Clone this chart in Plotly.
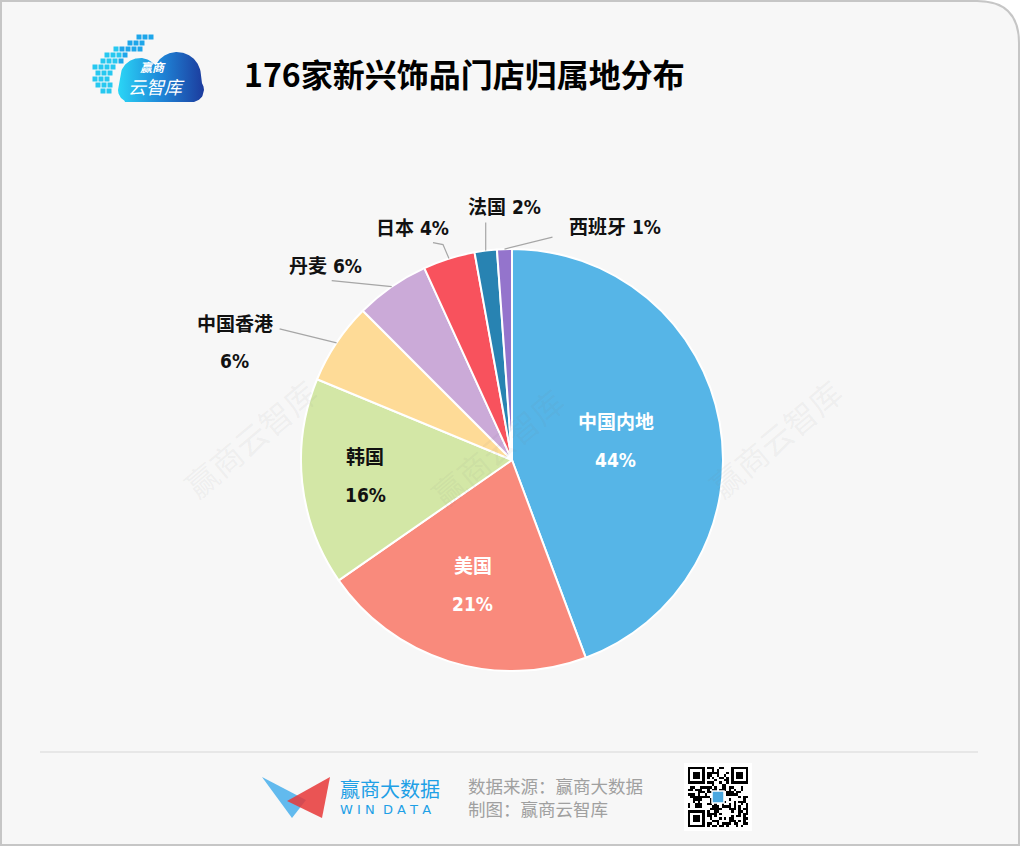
import math
import hashlib
import plotly.graph_objects as go

# ---------------- data ----------------
categories = ["中国内地", "美国", "韩国", "中国香港", "丹麦", "日本", "法国", "西班牙"]
store_counts = [78, 37, 28, 11, 10, 7, 3, 2]
title_text = "176家新兴饰品门店归属地分布"
source_lines = ["数据来源：赢商大数据", "制图：赢商云智库"]

# ---------------- style ----------------
W, H = 1022, 847
slice_colors = ["#56b5e7", "#f98a7c", "#d3e7a6", "#fedb97", "#cbaad8", "#f8525d", "#2883b2", "#9474cc"]
CX, CY, R = 512, 460, 211
LABEL_FONT = "Liberation Sans Narrow, DejaVu Sans Condensed, Noto Sans CJK SC, sans-serif"
CJK_FONT = "Noto Sans CJK SC, sans-serif"

# inside label placement: radius fraction, text colour
inside_style = {
    "中国内地": (0.50, "white"),
    "美国": (0.62, "white"),
    "韩国": (0.70, "#111111"),
}
# outside label: leader path offsets (from slice edge anchor), text offset, two-line flag
outside_style = {
    "中国香港": ([(-57, -14)], (-102, 0), True),
    "丹麦": ([(-60, -6)], (-66, -21), False),
    "日本": ([(-6, -14), (-16, -16)], (-36, -31), False),
    "法国": ([(0, -28)], (19, -44), False),
    "西班牙": ([(48, -12)], (111, -22), False),
}

fig = go.Figure()

# ---------------- pie ----------------
fig.add_trace(go.Pie(
    labels=categories, values=store_counts, sort=False, direction="clockwise",
    rotation=0, textinfo="none", hoverinfo="label+percent",
    marker=dict(colors=slice_colors, line=dict(color="white", width=2)),
    domain=dict(x=[(CX - R) / W, (CX + R) / W], y=[1 - (CY + R) / H, 1 - (CY - R) / H]),
    showlegend=False,
))

annotations = []
shapes = []

# card background with rounded top-right corner
rc = 42
shapes.append(dict(
    type="path", xref="x", yref="y", layer="below",
    path=f"M 1,1 H {1019 - rc} Q 1019,1 1019,{1 + rc} V 845 H 1 Z",
    fillcolor="#f7f7f7", line=dict(color="#c6c6c6", width=2),
))
# footer separator
shapes.append(dict(type="line", xref="x", yref="y", x0=40, x1=978, y0=752, y1=752,
                   line=dict(color="#e2e2e2", width=1.5), layer="below"))

# labels computed from data
total = sum(store_counts)
cum = 0
for name, val in zip(categories, store_counts):
    frac = val / total
    mid = (cum + frac / 2) * 2 * math.pi
    cum += frac
    pct = f"{round(frac * 100)}%"
    if name in inside_style:
        rf, col = inside_style[name]
        px = CX + rf * R * math.sin(mid)
        py = CY - rf * R * math.cos(mid)
        for dy, txt in ((-19, name), (19, pct)):
            annotations.append(dict(x=px, y=py + dy, xref="x", yref="y", text=f"<b>{txt}</b>",
                                    showarrow=False, font=dict(family=LABEL_FONT, size=19, color=col)))
    else:
        path_offs, (tx, ty), two_line = outside_style[name]
        ax_ = CX + R * math.sin(mid)
        ay_ = CY - R * math.cos(mid)
        pts = [(ax_, ay_)] + [(ax_ + dx, ay_ + dy) for dx, dy in path_offs]
        p = "M " + " L ".join(f"{x:.1f},{y:.1f}" for x, y in pts)
        shapes.append(dict(type="path", xref="x", yref="y", path=p,
                           line=dict(color="#a6a6a6", width=1.2), layer="above"))
        if two_line:
            for dy, txt in ((-19, name), (18, pct)):
                annotations.append(dict(x=ax_ + tx, y=ay_ + ty + dy, xref="x", yref="y",
                                        text=f"<b>{txt}</b>", showarrow=False,
                                        font=dict(family=LABEL_FONT, size=19, color="#111111")))
        else:
            annotations.append(dict(x=ax_ + tx, y=ay_ + ty, xref="x", yref="y",
                                    text=f"<b>{name} {pct}</b>", showarrow=False,
                                    font=dict(family=LABEL_FONT, size=19, color="#111111")))

# watermarks
for wx, wy in ((250, 438), (497, 447), (775, 438)):
    annotations.append(dict(x=wx, y=wy, xref="x", yref="y", text="赢商云智库", showarrow=False,
                            textangle=-40, font=dict(family=CJK_FONT, size=32, color="rgba(120,120,120,0.08)")))

# title
annotations.append(dict(x=242, y=73, xref="x", yref="y", xanchor="left", text="<b>" + title_text + "</b>",
                        showarrow=False, font=dict(family=CJK_FONT, size=32, color="#000000")))

# ---------------- top-left logo (cloud) ----------------
circles = [(140, 78, 20), (177, 76, 24), (192, 90, 12), (130, 90, 12)]
rect = (125, 195, 85, 102)
xs = [118 + i * 0.5 for i in range(int((204 - 118) / 0.5) + 1)]
top, bot = [], []
for x in xs:
    ts, bs = [], []
    for cx, cy, r in circles:
        if abs(x - cx) <= r:
            d = math.sqrt(r * r - (x - cx) ** 2)
            ts.append(cy - d)
            bs.append(cy + d)
    if rect[0] <= x <= rect[1]:
        ts.append(rect[2]); bs.append(rect[3])
    if ts:
        top.append((x, min(ts))); bot.append((x, max(bs)))
poly = top + bot[::-1]
fig.add_trace(go.Scatter(
    x=[p[0] for p in poly] + [poly[0][0]], y=[p[1] for p in poly] + [poly[0][1]],
    mode="lines", fill="toself", line=dict(width=0, color="rgba(0,0,0,0)"),
    fillgradient=dict(type="horizontal", colorscale=[[0, "#2ad6f6"], [0.5, "#1f86d8"], [1, "#1c3b9d"]]),
    hoverinfo="skip", showlegend=False, xaxis="x", yaxis="y",
))
# pixel squares
pixel_rows = [(37, 139, 3), (43, 130, 3), (49, 116, 5), (55, 107, 4), (61, 103, 4),
              (67, 95, 4), (73, 98, 3), (79, 95, 3), (85, 98, 3), (91, 103, 2)]
sqx, sqy, sqc = [], [], []
for yy, x0, n in pixel_rows:
    for k in range(n):
        sqx.append(x0 + k * 6); sqy.append(yy)
        sqc.append("#27c8f0" if (x0 + k * 6) < 120 else "#1ea6ea")
fig.add_trace(go.Scatter(x=sqx, y=sqy, mode="markers", hoverinfo="skip", showlegend=False,
                         marker=dict(symbol="square", size=5, color=sqc, line=dict(width=0))))
annotations.append(dict(x=153, y=66, xref="x", yref="y", text="<b>赢商</b>", showarrow=False,
                        font=dict(family=CJK_FONT, size=12, color="white", style="italic")))
annotations.append(dict(x=156, y=86, xref="x", yref="y", text="云智库", showarrow=False,
                        font=dict(family=CJK_FONT, size=18, color="white", style="italic")))

# ---------------- footer: WIN DATA logo ----------------
shapes.append(dict(type="path", xref="x", yref="y", path="M 262,777 L 306,800 L 292,818 Z",
                   fillcolor="rgba(60,170,235,0.8)", line=dict(width=0)))
shapes.append(dict(type="path", xref="x", yref="y", path="M 330,777 L 287,801 L 322,818 Z",
                   fillcolor="rgba(232,55,55,0.85)", line=dict(width=0)))
annotations.append(dict(x=338, y=788, xref="x", yref="y", xanchor="left", text="赢商大数据",
                        showarrow=False, font=dict(family=CJK_FONT, size=20, color="#1ea0e6")))
annotations.append(dict(x=338, y=809, xref="x", yref="y", xanchor="left", text="W I N  D A T A",
                        showarrow=False, font=dict(family="DejaVu Sans, sans-serif", size=13, color="#1ea0e6")))
annotations.append(dict(x=467, y=797, xref="x", yref="y", xanchor="left", align="left",
                        text="<br>".join(source_lines), showarrow=False, borderpad=0,
                        font=dict(family=CJK_FONT, size=17.5, color="#a0a0a0")))

# ---------------- footer: QR code decoration ----------------
N = 25
bits = "".join(format(b, "08b") for i in range(20)
               for b in hashlib.sha256(f"windata{i}".encode()).digest())
grid = [[int(bits[(r * N + c) % len(bits)]) for c in range(N)] for r in range(N)]
def finder(r0, c0):
    for r in range(-1, 8):
        for c in range(-1, 8):
            rr, cc = r0 + r, c0 + c
            if 0 <= rr < N and 0 <= cc < N:
                on = (0 <= r <= 6 and 0 <= c <= 6) and (r in (0, 6) or c in (0, 6) or (2 <= r <= 4 and 2 <= c <= 4))
                grid[rr][cc] = 1 if on else 0
finder(0, 0); finder(0, N - 7); finder(N - 7, 0)
for r in range(10, 15):
    for c in range(10, 15):
        grid[r][c] = 0
shapes.append(dict(type="rect", xref="x", yref="y", x0=684, x1=752, y0=763, y1=831,
                   fillcolor="white", line=dict(width=0), layer="below"))
cell = 60 / N
fig.add_trace(go.Heatmap(z=grid, x0=688 + cell / 2, dx=cell, y0=767 + cell / 2, dy=cell,
                         colorscale=[[0, "white"], [1, "black"]], showscale=False, hoverinfo="skip",
                         zmin=0, zmax=1))
shapes.append(dict(type="rect", xref="x", yref="y", x0=712, x1=724, y0=791, y1=803,
                   fillcolor="#4aa8e0", line=dict(color="white", width=1.5)))

fig.update_layout(
    width=W, height=H, margin=dict(l=0, r=0, t=0, b=0),
    paper_bgcolor="white", plot_bgcolor="rgba(0,0,0,0)",
    xaxis=dict(range=[0, W], visible=False, fixedrange=True, domain=[0, 1]),
    yaxis=dict(range=[H, 0], visible=False, fixedrange=True, domain=[0, 1]),
    shapes=shapes, annotations=annotations, showlegend=False,
)

fig.write_html("out.html", config=dict(displayModeBar=False),
               post_script="document.body.style.margin='0px';document.body.style.overflow='hidden';")
